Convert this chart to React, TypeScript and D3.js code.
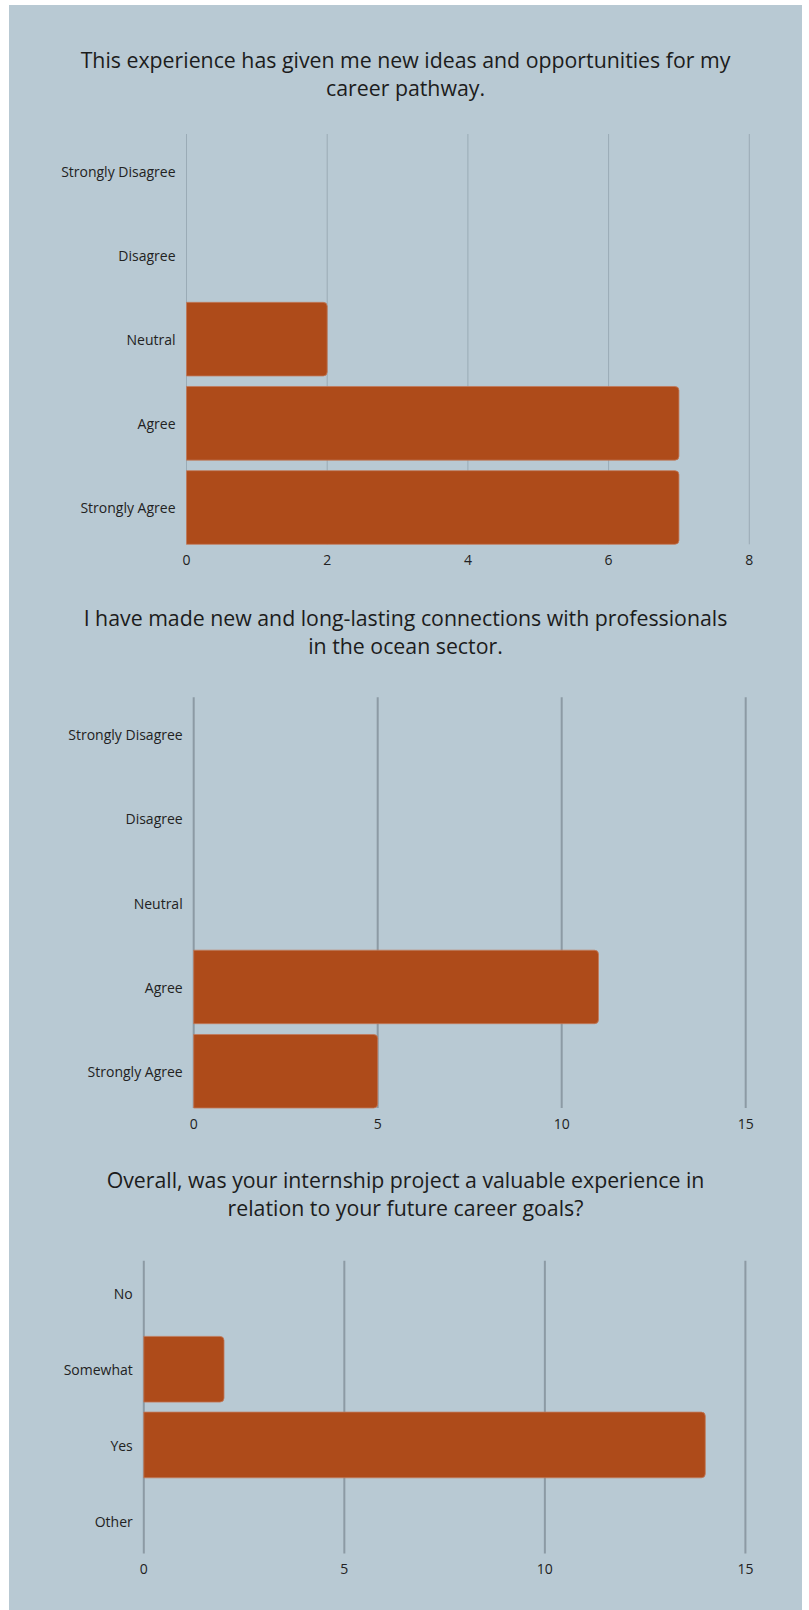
import React from "react";
import * as d3 from "d3";

const W = 809;
const H = 1610;

// Chart 1
const title1 = ["This experience has given me new ideas and opportunities for my", "career pathway."];
const cats1 = ["Strongly Disagree", "Disagree", "Neutral", "Agree", "Strongly Agree"];
const vals1 = [0, 0, 2, 7, 7];
const ticks1 = [0, 2, 4, 6, 8];

// Chart 2
const title2 = ["I have made new and long-lasting connections with professionals", "in the ocean sector."];
const cats2 = ["Strongly Disagree", "Disagree", "Neutral", "Agree", "Strongly Agree"];
const vals2 = [0, 0, 0, 11, 5];
const ticks2 = [0, 5, 10, 15];

// Chart 3
const title3 = ["Overall, was your internship project a valuable experience in", "relation to your future career goals?"];
const cats3 = ["No", "Somewhat", "Yes", "Other"];
const vals3 = [0, 2, 14, 0];
const ticks3 = [0, 5, 10, 15];

const BG = "#b8c9d3";
const BAR = "#ae4b1a";
const FONT = "'Open Sans', sans-serif";

type PanelProps = {
  title: string[];
  titleY: number;
  cats: string[];
  vals: number[];
  ticks: number[];
  x0: number;
  x1: number;
  y0: number;
  y1: number;
  pad: number;
  gridColor: string;
  gridWidth: number;
};

function barPath(x: number, y: number, w: number, h: number, r: number) {
  const rr = Math.min(r, w, h / 2);
  const p = d3.path();
  p.moveTo(x, y);
  p.lineTo(x + w - rr, y);
  p.quadraticCurveTo(x + w, y, x + w, y + rr);
  p.lineTo(x + w, y + h - rr);
  p.quadraticCurveTo(x + w, y + h, x + w - rr, y + h);
  p.lineTo(x, y + h);
  p.closePath();
  return p.toString();
}

function Panel(props: PanelProps) {
  const { title, titleY, cats, vals, ticks, x0, x1, y0, y1, pad, gridColor, gridWidth } = props;
  const xMax = ticks[ticks.length - 1];
  const x = d3.scaleLinear().domain([0, xMax]).range([x0, x1]);
  const y = d3.scaleBand<string>().domain(cats).range([y0, y1]).paddingInner(pad).paddingOuter(0);
  return (
    <g>
      {title.map((t, i) => (
        <text key={i} x={405.5} y={titleY + i * 27.8} textAnchor="middle" fontFamily={FONT} fontSize={21.3} fill="#1c1c1c">
          {t}
        </text>
      ))}
      {ticks.map((t) => (
        <line key={"g" + t} x1={x(t)} x2={x(t)} y1={y0} y2={y1} stroke={gridColor} strokeWidth={gridWidth} />
      ))}
      {cats.map((c, i) => {
        const v = vals[i];
        const by = y(c)!;
        const bh = y.bandwidth();
        return (
          <g key={c}>
            {v > 0 && (
              <path d={barPath(x(0), by, x(v) - x(0), bh, 4)} fill={BAR} stroke="#c27a5a" strokeWidth={0.8} />
            )}
            <text x={x0 - 11} y={by + bh / 2 + 1} dy="0.35em" textAnchor="end" fontFamily={FONT} fontSize={14} fill="#222">
              {c}
            </text>
          </g>
        );
      })}
      {ticks.map((t) => (
        <text key={"t" + t} x={x(t)} y={y1 + 16} dy="0.35em" textAnchor="middle" fontFamily={FONT} fontSize={14} fill="#222">
          {t}
        </text>
      ))}
    </g>
  );
}

export default function App() {
  return (
    <svg width={W} height={H} style={{ position: "absolute", left: 0, top: 0, display: "block" }}>
      <rect x={9} y={5} width={793} height={H - 5} fill={BG} />
      <Panel title={title1} titleY={68.3} cats={cats1} vals={vals1} ticks={ticks1} x0={186.5} x1={749.3} y0={134} y1={544.3} pad={0.125} gridColor="#9aabb6" gridWidth={1} />
      <Panel title={title2} titleY={626} cats={cats2} vals={vals2} ticks={ticks2} x0={193.7} x1={745.7} y0={697.3} y1={1108} pad={0.128} gridColor="#8c9aa4" gridWidth={2} />
      <Panel title={title3} titleY={1188.3} cats={cats3} vals={vals3} ticks={ticks3} x0={143.8} x1={745.4} y0={1260.7} y1={1553.5} pad={0.132} gridColor="#8c9aa4" gridWidth={2} />
    </svg>
  );
}
